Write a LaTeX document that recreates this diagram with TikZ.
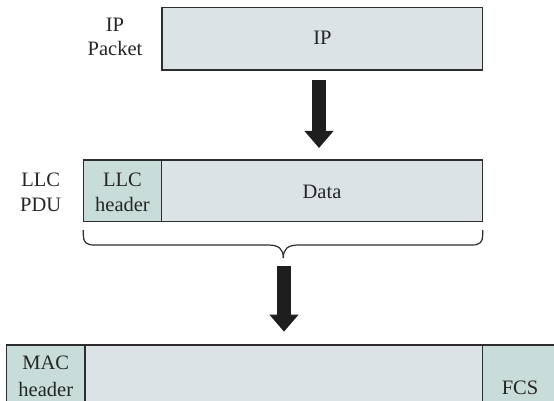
\documentclass[tikz,border=0pt]{standalone}
\usepackage{fontspec}
\setmainfont{Liberation Serif}
\usetikzlibrary{arrows.meta}
\definecolor{paleblue}{RGB}{220,227,230}
\definecolor{palegreen}{RGB}{200,220,217}
\definecolor{edge}{RGB}{45,45,45}
\definecolor{arrowcol}{RGB}{30,30,30}
\begin{document}
\begin{tikzpicture}[x=1pt,y=-1pt,
  every node/.style={font=\fontsize{20.5}{24}\selectfont, inner sep=0pt, text=black!85},
  field/.style={draw=edge, line width=1.4pt, fill=paleblue},
  hfield/.style={draw=edge, line width=1.4pt, fill=palegreen},
  txt/.style={anchor=base},
  fatarrow/.style={draw=arrowcol, line width=13.5pt, -{Triangle[width=28pt,length=17pt]}},
  brace/.style={draw=edge, line width=1.2pt}]
\useasboundingbox (0,0) rectangle (554,401);
\clip (0,0) rectangle (554,401);
\fill[white] (0,0) rectangle (554,401);
% IP packet
\draw[field] (162,7.5) rectangle (482.7,70);
\node[txt] (iptxt) at (322.5,45) {IP};
\node[txt] (lblip) at (115,32) {IP};
\node[txt] (lblpacket) at (115,56) {Packet};
% arrow 1
\coordinate (a1s) at (319,80);
\coordinate (a1e) at (319,148);
\draw[fatarrow] (a1s) -- (a1e);
% LLC PDU
\draw[hfield] (83.3,160) rectangle (161.7,221.7);
\draw[field] (161.7,160) rectangle (482.7,221.7);
\node[txt] (lblllc) at (40.7,186.7) {LLC};
\node[txt] (lblpdu) at (40.7,211) {PDU};
\node[txt] (hllc) at (122.5,186.7) {LLC};
\node[txt] (hhdr) at (122.5,211) {header};
\node[anchor=base] (data) at (322,198) {Data};
% brace
\draw[brace] (83.3,230) -- (83.3,235) .. controls (83.3,242) and (86,245) .. (94,245)
  -- (268,245) .. controls (279,245) and (283.3,249) .. (283.3,258);
\draw[brace] (482.7,230) -- (482.7,235) .. controls (482.7,242) and (480,245) .. (472,245)
  -- (298.6,245) .. controls (287.6,245) and (283.3,249) .. (283.3,258);
% arrow 2
\coordinate (a2s) at (284,266);
\coordinate (a2e) at (284,331.7);
\draw[fatarrow] (a2s) -- (a2e);
% MAC frame
\draw[hfield] (6.7,345) rectangle (85,420);
\draw[field] (85,345) rectangle (482.7,420);
\draw[hfield] (482.7,345) rectangle (570,420);
\node[txt] (mac) at (45.8,369.5) {MAC};
\node[txt] (machdr) at (45.8,396.5) {header};
\node[txt] (fcs) at (520,394) {FCS};
\end{tikzpicture}
\end{document}
